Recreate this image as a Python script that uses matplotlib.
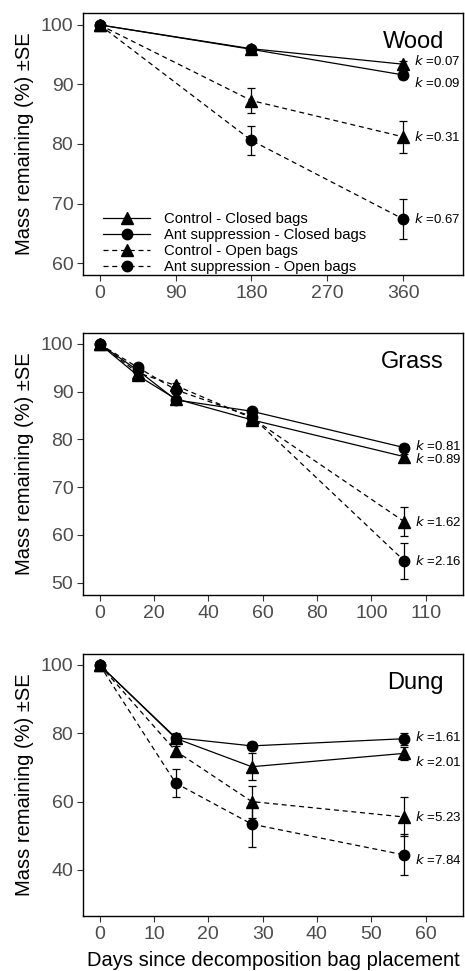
import matplotlib
matplotlib.use('Agg')
import matplotlib.pyplot as plt
from matplotlib.lines import Line2D

plt.rcParams['font.family'] = ['Liberation Sans', 'DejaVu Sans']

LABELS = ['Control - Closed bags', 'Ant suppression - Closed bags',
          'Control - Open bags', 'Ant suppression - Open bags']
MARKERS = ['^', 'o', '^', 'o']
STYLES = ['-', '-', '--', '--']

# wood
wood_days = [0, 180, 360]
wood_mean = [[100, 96.0, 93.4],
             [100, 95.9, 91.6],
             [100, 87.3, 81.2],
             [100, 80.6, 67.4]]
wood_se = [[0, 0.4, 0.5],
           [0, 0.4, 0.7],
           [0, 2.1, 2.7],
           [0, 2.5, 3.4]]
wood_k = ['0.07', '0.09', '0.31', '0.67']

# grass
grass_days = [0, 14, 28, 56, 112]
grass_mean = [[100, 93.4, 88.5, 84.1, 76.4],
              [100, 94.5, 88.3, 85.9, 78.3],
              [100, 94.0, 91.3, 84.5, 62.8],
              [100, 95.1, 90.4, 84.8, 54.6]]
grass_se = [[0, 0.5, 0.5, 0.8, 0.6],
            [0, 0.5, 0.5, 0.5, 0.8],
            [0, 0.5, 0.6, 0.8, 3.1],
            [0, 0.5, 0.6, 0.8, 3.8]]
grass_k = ['0.89', '0.81', '1.62', '2.16']

# dung
dung_days = [0, 14, 28, 56]
dung_mean = [[100, 78.5, 70.2, 74.1],
             [100, 78.7, 76.3, 78.4],
             [100, 74.8, 60.0, 55.5],
             [100, 65.4, 53.4, 44.4]]
dung_se = [[0, 1.5, 3.9, 2.0],
           [0, 1.2, 1.2, 1.8],
           [0, 1.5, 4.7, 5.7],
           [0, 4.2, 6.6, 6.0]]
dung_k = ['2.01', '1.61', '5.23', '7.84']

panels = [
    dict(name='Wood', days=wood_days, mean=wood_mean, se=wood_se, k=wood_k,
         xlim=(-19.8, 431), ylim=(58.0, 102.0),
         xticks=[0, 90, 180, 270, 360], xtl=['0', '90', '180', '270', '360'],
         yticks=[60, 70, 80, 90, 100], top=13, bottom=275,
         koff=[(0, 2), (0, -6), (0, 0), (0, 0)]),
    dict(name='Grass', days=grass_days, mean=grass_mean, se=grass_se, k=grass_k,
         xlim=(-6.1, 133.7), ylim=(47.4, 102.3),
         xticks=[0, 20, 40, 60, 80, 100, 120],
         xtl=['0', '20', '40', '60', '80', '100', '110'],
         yticks=[50, 60, 70, 80, 90, 100], top=333, bottom=595,
         koff=[(0, -2), (0, 1), (0, 0), (0, 0)]),
    dict(name='Dung', days=dung_days, mean=dung_mean, se=dung_se, k=dung_k,
         xlim=(-3.07, 66.9), ylim=(26.5, 103.2),
         xticks=[0, 10, 20, 30, 40, 50, 60],
         xtl=['0', '10', '20', '30', '40', '50', '60'],
         yticks=[40, 60, 80, 100], top=654, bottom=916,
         koff=[(0, -6), (0, 1), (0, 0), (0, -4)]),
]

W, H = 465, 971
fig = plt.figure(figsize=(W / 100, H / 100), dpi=100)

for p in panels:
    ax = fig.add_axes([83 / W, (H - p['bottom']) / H, 380 / W, (p['bottom'] - p['top']) / H])
    for i in range(4):
        ax.errorbar(p['days'], p['mean'][i], yerr=p['se'][i], color='black',
                    linestyle=STYLES[i], dashes=(4, 3) if STYLES[i] == '--' else (None, None),
                    marker=MARKERS[i], markersize=8.5 if MARKERS[i] == '^' else 7.5,
                    linewidth=0.9, elinewidth=0.9, capsize=3, capthick=0.9)
        ax.annotate(r'$k$ =' + p['k'][i], xy=(p['days'][-1], p['mean'][i][-1]),
                    xytext=(8 + p['koff'][i][0], p['koff'][i][1]), textcoords='offset points',
                    fontsize=9.5, va='center', ha='left', color='black')
    ax.set_xlim(p['xlim'])
    ax.set_ylim(p['ylim'])
    ax.set_xticks(p['xticks'])
    ax.set_xticklabels(p['xtl'])
    ax.set_yticks(p['yticks'])
    ax.tick_params(axis='both', labelsize=14, labelcolor='#4D4D4D', color='#333333',
                   length=4, width=0.8, direction='out', pad=3)
    for s in ax.spines.values():
        s.set_linewidth(1.0)
    ax.text(0.95, 0.93, p['name'], transform=ax.transAxes, fontsize=17,
            ha='right', va='top')
    ax.set_ylabel('Mass remaining (%) ±SE', fontsize=14.5, labelpad=5)
    if p['name'] == 'Wood':
        handles = [Line2D([], [], color='black', linestyle=STYLES[i],
                          dashes=(4, 3) if STYLES[i] == '--' else (None, None),
                          marker=MARKERS[i], markersize=8.5 if MARKERS[i] == '^' else 7.5,
                          linewidth=0.9) for i in range(4)]
        ax.legend(handles, LABELS, loc='lower left', bbox_to_anchor=(0.025, -0.035),
                  frameon=False, fontsize=10.7, handlelength=3.2, handletextpad=0.9,
                  labelspacing=0.12, borderaxespad=0.3)
    if p['name'] == 'Dung':
        ax.set_xlabel('Days since decomposition bag placement', fontsize=14.5, labelpad=6)

fig.savefig('out.png', dpi=100)
